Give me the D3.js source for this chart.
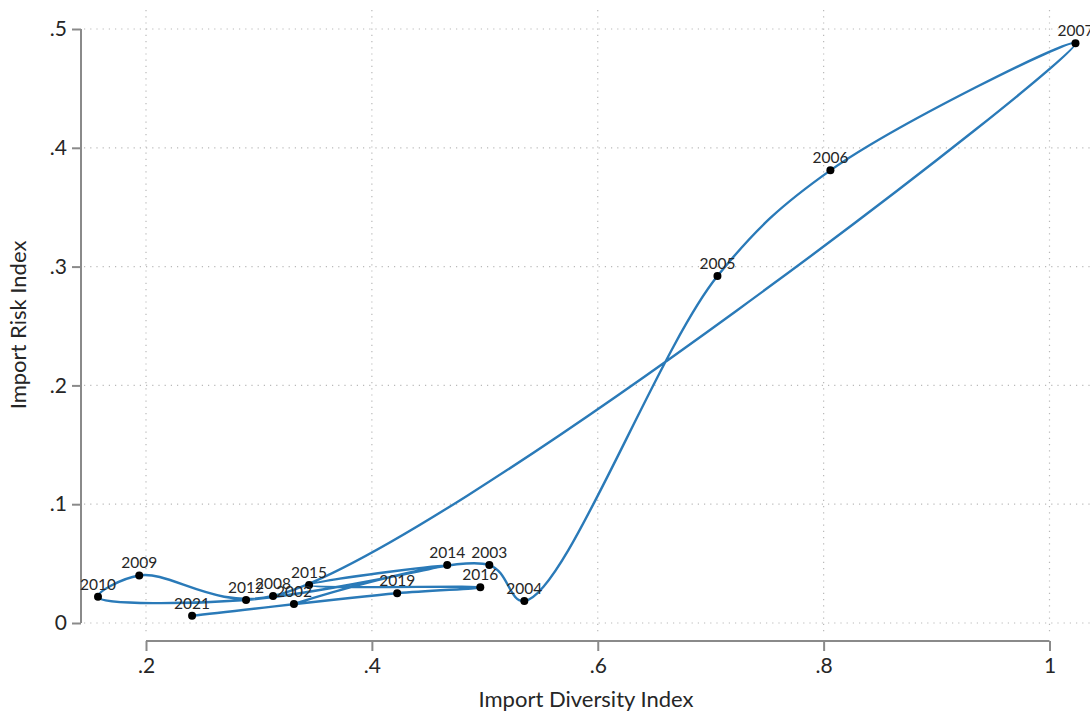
<!DOCTYPE html>
<html>
<head>
<meta charset="utf-8">
<script src="https://cdn.jsdelivr.net/npm/d3@7"></script>
<style>
  html, body { margin: 0; padding: 0; background: #fff; }
  svg { display: block; font-family: Lato, "Open Sans", sans-serif; }
</style>
</head>
<body>
<svg id="chart" width="1090" height="711"></svg>
<script>
// Yearly import diversity vs. import risk, connected in time order
const years     = [2002, 2003, 2004, 2005, 2006, 2007, 2008, 2009, 2010, 2012, 2014, 2015, 2016, 2019, 2021];
const diversity = [0.331, 0.504, 0.535, 0.706, 0.806, 1.023, 0.3125, 0.194, 0.1575, 0.2886, 0.4667, 0.3444, 0.496, 0.4224, 0.2408];
const risk      = [0.016, 0.0488, 0.0185, 0.292, 0.381, 0.488, 0.0227, 0.040, 0.022, 0.0194, 0.0488, 0.032, 0.030, 0.025, 0.006];

const xTicks = [0.2, 0.4, 0.6, 0.8, 1];
const yTicks = [0, 0.1, 0.2, 0.3, 0.4, 0.5];
const fmt = v => v === 0 ? "0" : (v === 1 ? "1" : String(v).replace(/^0/, ""));

const svg = d3.select("#chart");

const x = d3.scaleLinear().domain([0.2, 1]).range([146, 1049.5]);
const y = d3.scaleLinear().domain([0, 0.5]).range([623, 29]);

const gridColor = "#b9b9b9";
const axisColor = "#8a8a8a";
const textColor = "#262626";

// dotted grid
const grid = svg.append("g");
grid.selectAll("line.h").data(yTicks).join("line")
  .attr("x1", 84).attr("x2", 1090)
  .attr("y1", d => y(d)).attr("y2", d => y(d))
  .attr("stroke", gridColor).attr("stroke-width", 1.2)
  .attr("stroke-dasharray", "1.2,5");
grid.selectAll("line.v").data(xTicks).join("line")
  .attr("x1", d => x(d)).attr("x2", d => x(d))
  .attr("y1", 10).attr("y2", 635)
  .attr("stroke", gridColor).attr("stroke-width", 1.2)
  .attr("stroke-dasharray", "1.2,5");

// y axis
const yAxis = svg.append("g").attr("transform", "translate(81,0)")
  .call(d3.axisLeft(y).tickValues(yTicks).tickFormat(fmt).tickSize(9).tickPadding(5));
yAxis.select(".domain").attr("stroke", axisColor).attr("stroke-width", 2).attr("d", `M0,${y(0.5)}V${y(0)}`);
yAxis.selectAll(".tick line").attr("stroke", axisColor).attr("stroke-width", 2);
yAxis.selectAll(".tick text").attr("font-size", 21).attr("fill", textColor).attr("font-family", "Lato, sans-serif");

// x axis
const xAxis = svg.append("g").attr("transform", "translate(0,641)")
  .call(d3.axisBottom(x).tickValues(xTicks).tickFormat(fmt).tickSize(10).tickPadding(7));
xAxis.select(".domain").attr("stroke", axisColor).attr("stroke-width", 2).attr("d", `M${x(0.2)},0H${x(1)}`);
xAxis.selectAll(".tick line").attr("stroke", axisColor).attr("stroke-width", 2);
xAxis.selectAll(".tick text").attr("font-size", 21).attr("fill", textColor).attr("font-family", "Lato, sans-serif");

// axis titles
svg.append("text")
  .attr("x", 586).attr("y", 707)
  .attr("text-anchor", "middle")
  .attr("font-size", 22).attr("fill", textColor)
  .text("Import Diversity Index");
svg.append("text")
  .attr("transform", "translate(26,325) rotate(-90)")
  .attr("text-anchor", "middle")
  .attr("font-size", 22).attr("fill", textColor)
  .text("Import Risk Index");

// data
const pts = years.map((yr, i) => ({ year: yr, dx: diversity[i], ry: risk[i] }));

const line = d3.line()
  .x(d => x(d.dx)).y(d => y(d.ry))
  .curve(d3.curveCatmullRom.alpha(0.5));

svg.append("path")
  .datum(pts)
  .attr("d", line)
  .attr("fill", "none")
  .attr("stroke", "#2a7ab8")
  .attr("stroke-width", 2.4);

svg.append("g").selectAll("circle").data(pts).join("circle")
  .attr("cx", d => x(d.dx)).attr("cy", d => y(d.ry))
  .attr("r", 4).attr("fill", "#000");

svg.append("g").selectAll("text").data(pts).join("text")
  .attr("x", d => x(d.dx)).attr("y", d => y(d.ry) - 7)
  .attr("text-anchor", "middle")
  .attr("font-size", 15.5).attr("fill", textColor)
  .text(d => d.year);
</script>
</body>
</html>
